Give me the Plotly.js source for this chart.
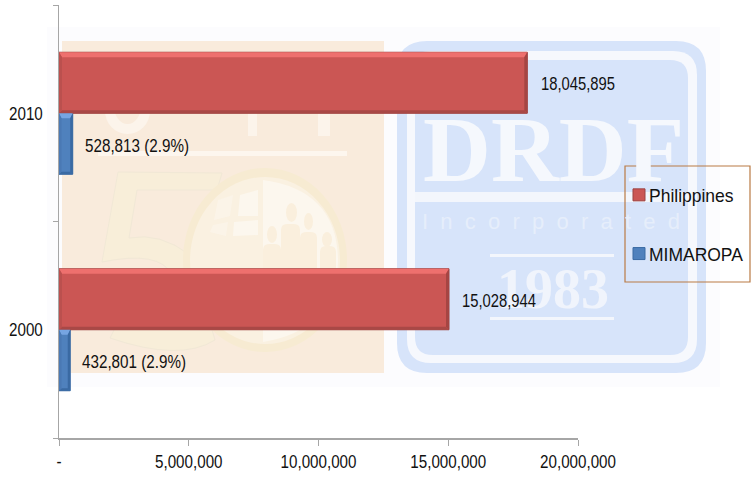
<!DOCTYPE html>
<html>
<head>
<meta charset="utf-8">
<script src="https://cdn.plot.ly/plotly-3.0.1.min.js"></script>
<style>html,body{margin:0;padding:0;background:#fff}#chart{width:753px;height:484px}</style>
</head>
<body>
<div id="chart"></div>
<script>
var years = ['2000', '2010'];
var philippines = [15028944, 18045895];
var mimaropa = [432801, 528813];
var philippinesLabels = ['15,028,944', '18,045,895'];
var mimaropaLabels = ['432,801 (2.9%)', '528,813 (2.9%)'];
var xTickVals = [0, 5000000, 10000000, 15000000, 20000000];
var xTickText = ['-', '5,000,000', '10,000,000', '15,000,000', '20,000,000'];

var W = 753, H = 484, L = 59, R = 578, T = 5, B = 438;
var GAP = 0.4365, XMAX = 20000000;
var FONT = '"Liberation Sans",Arial,sans-serif';
var SERIF = '"Liberation Serif",serif';

function px(x) { return (x - L) / (R - L); }
function py(y) { return (B - y) / (B - T); }
function pathOf(pts) {
  return pts.map(function (p, i) {
    return (i ? 'L' : 'M') + px(p[0]) + ',' + py(p[1]);
  }).join('') + 'Z';
}
function rect(x0, y0, x1, y1, color) {
  return {type: 'rect', xref: 'paper', yref: 'paper', layer: 'below',
    x0: px(x0), x1: px(x1), y0: py(y0), y1: py(y1),
    fillcolor: color, line: {width: 0}};
}
function oval(x0, y0, x1, y1, color) {
  var s = rect(x0, y0, x1, y1, color); s.type = 'circle'; return s;
}
function poly(pts, color) {
  return {type: 'path', xref: 'paper', yref: 'paper', layer: 'below',
    path: pathOf(pts), fillcolor: color, line: {width: 0}};
}
function rounded(x0, y0, x1, y1, r, color) {
  var a = px(x0), b = px(x1), c = py(y0), d = py(y1);
  var rx = r / (R - L), ry = r / (B - T);
  return {type: 'path', xref: 'paper', yref: 'paper', layer: 'below',
    path: 'M' + (a + rx) + ',' + c + 'L' + (b - rx) + ',' + c +
      'Q' + b + ',' + c + ' ' + b + ',' + (c - ry) +
      'L' + b + ',' + (d + ry) + 'Q' + b + ',' + d + ' ' + (b - rx) + ',' + d +
      'L' + (a + rx) + ',' + d + 'Q' + a + ',' + d + ' ' + a + ',' + (d + ry) +
      'L' + a + ',' + (c - ry) + 'Q' + a + ',' + c + ' ' + (a + rx) + ',' + c + 'Z',
    fillcolor: color, line: {width: 0}};
}

var watermark = [
  rect(47, 27, 720, 387, '#fcfcfe'),
  rect(62, 41, 384, 373, '#f9ebdc'),
  rounded(397, 41, 706, 373, 30, '#d7e4fa'),
  rounded(407, 51, 697, 363, 24, '#f6f8fd'),
  rounded(415, 60, 688, 355, 18, '#d7e4fa'),
  rect(415, 192, 688, 202, '#f3f6fc'),
  rect(490, 254, 614, 257, '#f3f6fc'),
  rect(490, 317, 614, 320, '#f3f6fc'),
  // white strokes behind the upper bar
  oval(105, 88, 150, 134, '#fcf4eb'),
  oval(114, 88, 141, 124, '#f9ebdc'),
  rect(248, 100, 257, 136, '#fcf4eb'),
  rect(318, 100, 330, 136, '#fcf4eb'),
  rect(98, 151, 347, 156, '#fdf6ee'),
  // the "5" of the logo
  {type: 'path', xref: 'paper', yref: 'paper', layer: 'below', fillcolor: '#f8eed9',
    line: {color: '#f1e8d6', width: 1},
    path: 'M' + px(118) + ',' + py(172) + 'L' + px(222) + ',' + py(173) +
      'L' + px(217) + ',' + py(190) + 'L' + px(137) + ',' + py(190) +
      'L' + px(129) + ',' + py(238) + 'Q' + px(160) + ',' + py(232) + ' ' + px(190) + ',' + py(255) +
      'L' + px(215) + ',' + py(340) + 'Q' + px(180) + ',' + py(362) + ' ' + px(110) + ',' + py(338) +
      'L' + px(118) + ',' + py(322) + 'Q' + px(170) + ',' + py(320) + ' ' + px(172) + ',' + py(275) +
      'Q' + px(160) + ',' + py(250) + ' ' + px(102) + ',' + py(262) + 'Z'},
  // globe disc of the logo
  oval(183, 168, 347, 352, '#f7ebd2'),
  oval(190, 177, 340, 344, '#faf1e1'),
  {type: 'path', xref: 'paper', yref: 'paper', layer: 'below', fillcolor: '#fcf7ee', line: {width: 0},
    path: 'M' + px(263) + ',' + py(180) + 'Q' + px(338) + ',' + py(190) + ' ' + px(338) + ',' + py(262) +
      'Q' + px(336) + ',' + py(330) + ' ' + px(263) + ',' + py(342) + 'Z'},
  poly([[240, 195], [258, 190], [258, 216], [238, 216]], '#fcf7ee'),
  poly([[234, 222], [258, 220], [258, 235], [233, 236]], '#fcf7ee'),
  poly([[218, 200], [233, 195], [230, 216], [214, 220]], '#fbf4e8'),
  poly([[213, 225], [228, 222], [226, 236], [210, 232]], '#fbf4e8'),
  oval(286, 203, 297, 222, '#faefdd'),
  oval(304, 213, 313, 230, '#faefdd'),
  oval(267, 226, 277, 243, '#faefdd'),
  oval(322, 232, 332, 247, '#faefdd'),
  rounded(281, 224, 300, 290, 6, '#faefdd'),
  rounded(300, 232, 317, 290, 6, '#faefdd'),
  rounded(263, 244, 281, 290, 6, '#faefdd'),
  rounded(320, 246, 336, 290, 6, '#faefdd')
];

// Bevels on the bars follow the data values
var w = 1 - GAP, PXX = XMAX / (R - L), PXY = w / 2 / 61;
function bevel(v, lo, hi, topH, side, colors) {
  var dx = side * PXX, dy = side * PXY, ty = topH * PXY;
  function s(pts, c) {
    return {type: 'path', xref: 'x', yref: 'y', fillcolor: c, line: {width: 0},
      path: pts.map(function (p, i) { return (i ? 'L' : 'M') + p[0] + ',' + p[1]; }).join('') + 'Z'};
  }
  return [
    s([[0, hi], [v, hi], [v - dx, hi - ty], [dx, hi - ty]], colors[0]),
    s([[v, hi], [v, lo], [v - dx, lo + dy], [v - dx, hi - ty]], colors[1]),
    s([[0, lo], [v, lo], [v - dx, lo + dy], [dx, lo + dy]], colors[2]),
    s([[0, hi], [0, lo], [dx, lo + dy], [dx, hi - ty]], colors[3])
  ];
}
var bevels = [];
years.forEach(function (y, i) {
  bevels = bevels.concat(bevel(philippines[i], i, i + w / 2, 5, 3,
    ['#ee706e', '#a54543', '#a94846', '#bb504e']));
  bevels = bevels.concat(bevel(mimaropa[i], i - w / 2, i, 5, 2.5,
    ['#76a5e2', '#3a6aa3', '#3a6aa3', '#4a79b4']));
});

var legendBox = {type: 'rect', xref: 'paper', yref: 'paper',
  x0: px(625), x1: px(750), y0: py(166), y1: py(282),
  fillcolor: 'rgba(0,0,0,0)', line: {color: '#b97b45', width: 1.2}};

var traces = [
  {type: 'bar', orientation: 'h', name: 'MIMAROPA', y: years, x: mimaropa, legendgroup: 'm', legendrank: 2,
    marker: {color: '#4f81bd', line: {color: '#3a6aa3', width: 1}}, hoverinfo: 'x+y'},
  {type: 'bar', orientation: 'h', name: 'Philippines', y: years, x: philippines, legendgroup: 'p', legendrank: 1,
    marker: {color: '#cb5654', line: {color: '#9c4240', width: 1}}, hoverinfo: 'x+y'}
];

var annos = [];
function mark(x, y, text, size, family, color) {
  annos.push({x: px(x), y: py(y), xref: 'paper', yref: 'paper', text: text, showarrow: false,
    xanchor: 'center', yanchor: 'middle', font: {family: family, size: size, color: color}});
}
mark(553, 149, '<b>DRDF</b>', 94, SERIF, '#f5f8fd');
mark(551, 222, 'I\u00a0\u00a0n\u00a0\u00a0c\u00a0\u00a0o\u00a0\u00a0r\u00a0\u00a0p\u00a0\u00a0o\u00a0\u00a0r\u00a0\u00a0a\u00a0\u00a0t\u00a0\u00a0e\u00a0\u00a0d', 22, FONT, '#e6eefb');
mark(553, 289, '<b>1983</b>', 56, SERIF, '#f0f4fc');

function label(x, yPos, text, shift, yshift) {
  annos.push({x: x, y: yPos, xref: 'x', yref: 'y', text: text, showarrow: false,
    xanchor: 'left', yanchor: 'middle', xshift: shift, yshift: yshift,
    font: {family: FONT, size: 18, color: '#111'}});
}
years.forEach(function (y, i) {
  label(philippines[i], i + w / 4, philippinesLabels[i], 11 + i, -1.5);
  label(mimaropa[i], i - w / 4, mimaropaLabels[i], 10, -2);
});

var layout = {
  width: W, height: H, autosize: false, showlegend: true,
  paper_bgcolor: '#ffffff', plot_bgcolor: 'rgba(0,0,0,0)',
  margin: {l: L, r: W - R, t: T, b: H - B, pad: 0, autoexpand: false},
  barmode: 'group', bargap: GAP, bargroupgap: 0,
  font: {family: FONT, size: 18, color: '#111'},
  xaxis: {range: [0, XMAX], tickmode: 'array', tickvals: xTickVals, ticktext: xTickText,
    showgrid: false, zeroline: false, showline: true, linecolor: '#a6a6a6', linewidth: 1.5,
    ticks: 'outside', ticklen: 6, tickcolor: '#a6a6a6', tickwidth: 1,
    tickfont: {family: FONT, size: 18.5, color: '#111'}},
  yaxis: {type: 'category', categoryorder: 'array', categoryarray: years, range: [-0.5, 1.5],
    showgrid: false, zeroline: false, showline: true, linecolor: '#a6a6a6', linewidth: 1.5,
    ticks: 'outside', ticklen: 5, tickcolor: '#a6a6a6', tickwidth: 1, tickson: 'boundaries',
    tickfont: {family: FONT, size: 18.5, color: '#111'}, ticklabelstandoff: 11},
  legend: {x: px(619), y: py(176), xanchor: 'left', yanchor: 'top',
    traceorder: 'grouped', tracegroupgap: 31, bgcolor: 'rgba(0,0,0,0)', borderwidth: 0,
    font: {family: FONT, size: 19, color: '#111'}},
  shapes: watermark.concat(bevels, [legendBox]),
  annotations: annos
};

// The reference uses a condensed face; squeeze the real text horizontally.
function condense(t, factor, keepLeft) {
  var before = t.getBBox().x;
  t.setAttribute('lengthAdjust', 'spacingAndGlyphs');
  t.setAttribute('textLength', t.getComputedTextLength() * factor);
  if (keepLeft) {
    var delta = t.getBBox().x - before;
    t.setAttribute('x', (parseFloat(t.getAttribute('x')) || 0) - delta);
  }
}

Plotly.newPlot('chart', traces, layout, {displayModeBar: false, staticPlot: true}).then(function () {
  document.querySelectorAll('.annotation-text').forEach(function (t) {
    if (philippinesLabels.indexOf(t.textContent) >= 0) condense(t, 0.82, true);
    if (mimaropaLabels.indexOf(t.textContent) >= 0) condense(t, 0.845, true);
  });
  document.querySelectorAll('.xtick text, .ytick text').forEach(function (t) { condense(t, 0.82, false); });
  document.querySelectorAll('.legendtext').forEach(function (t) {
    t.setAttribute('x', 30);
    condense(t, 0.92, false);
  });
});
</script>
</body>
</html>
